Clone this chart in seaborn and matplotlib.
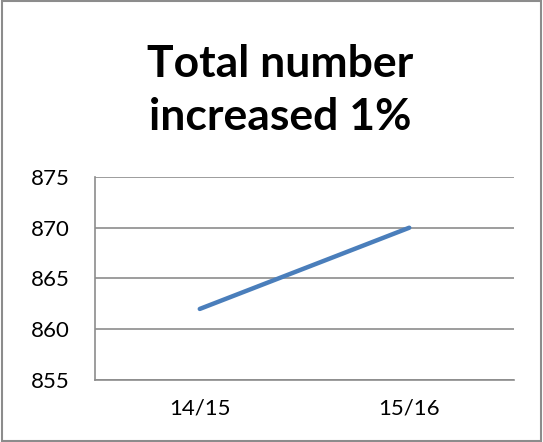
import matplotlib
matplotlib.use("Agg")
import matplotlib.pyplot as plt
import seaborn as sns
import pandas as pd

years = ["14/15", "15/16"]
totals = [862, 870]
title = "Total number\nincreased 1%"

sns.set_style("white")
plt.rcParams['font.family'] = ['Lato', 'DejaVu Sans']
plt.rcParams['text.color'] = 'black'
plt.rcParams['xtick.labelcolor'] = 'black'
plt.rcParams['ytick.labelcolor'] = 'black'

df = pd.DataFrame({"year": years, "total": totals})

fig = plt.figure(figsize=(5.43, 4.42), dpi=100)
ax = fig.add_axes([0.175, 0.1403, 0.7716, 0.4593])
sns.lineplot(data=df, x="year", y="total", ax=ax, color="#4A7EBB", linewidth=3.2, sort=False)

ax.set_xlim(-0.5, 1.5)
ax.set_ylim(855, 875)
ax.set_yticks([855, 860, 865, 870, 875])
ax.yaxis.grid(True, color="#8c8c8c", linewidth=1.2)
ax.set_xlabel("")
ax.set_ylabel("")

ax.set_xticks([0, 1])
ax.set_xticklabels(years)
ax.set_xticks([-0.5, 0.5, 1.5], minor=True)
ax.tick_params(axis="x", which="major", length=0, labelsize=16, pad=13)
ax.tick_params(axis="x", which="minor", length=7, width=1.2, color="#8c8c8c", direction="out")
ax.tick_params(axis="y", length=7, width=1.2, color="#8c8c8c", direction="out", labelsize=16, pad=11)

for s in ["top", "right"]:
    ax.spines[s].set_visible(False)
for s in ["left", "bottom"]:
    ax.spines[s].set_color("#8c8c8c")
    ax.spines[s].set_linewidth(1.2)

fig.text(0.516, 0.795, title, ha="center", va="center", fontsize=32,
         fontweight="bold", linespacing=1.4, color="black")

# outer frame of the chart
fig.patches.append(plt.Rectangle((0.003, 0.003), 0.994, 0.994, transform=fig.transFigure,
                                 fill=False, edgecolor="#8c8c8c", linewidth=1.5))

fig.savefig("out.png", dpi=100)
